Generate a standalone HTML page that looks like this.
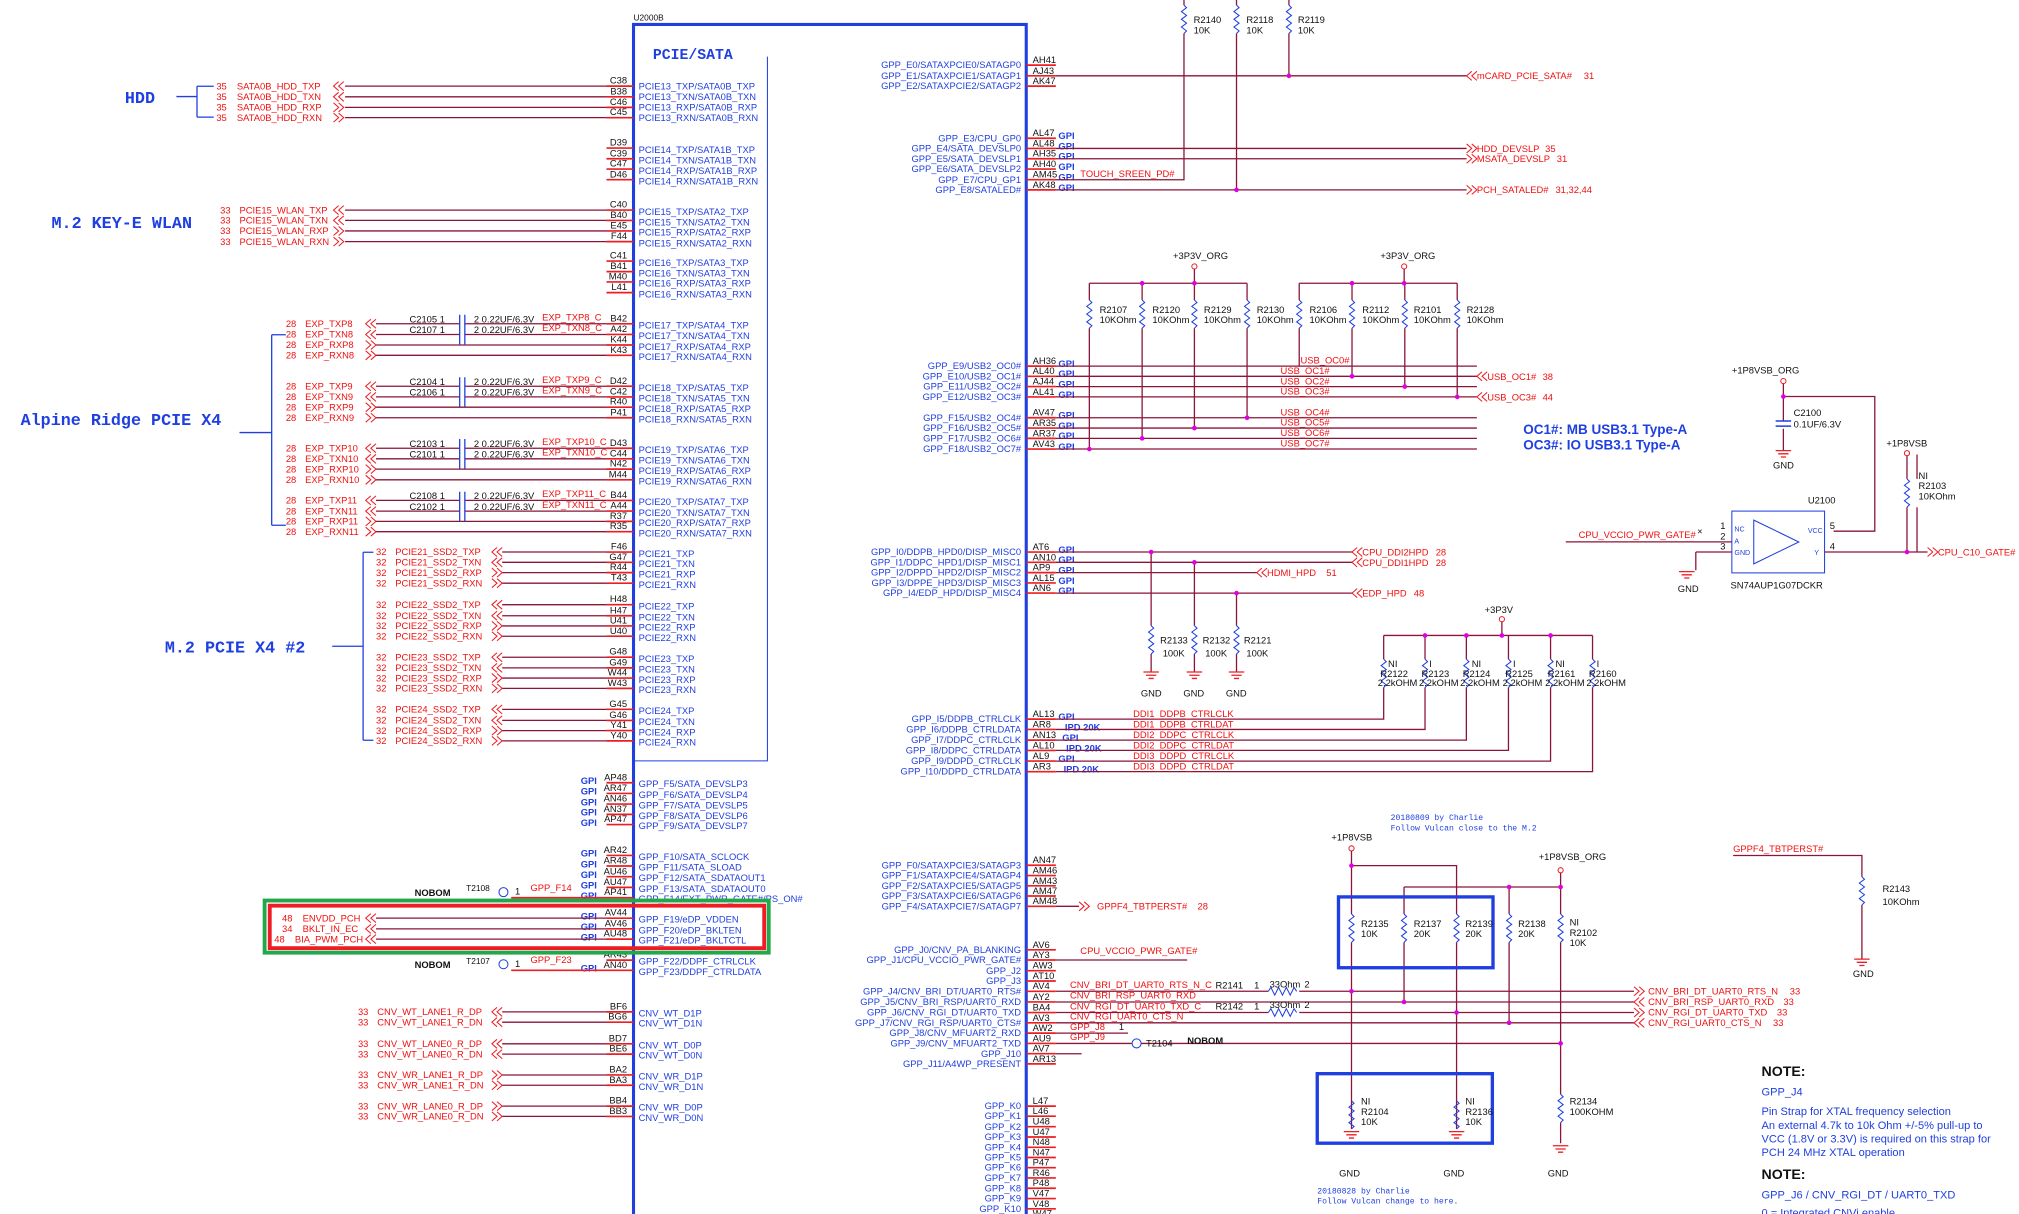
<!DOCTYPE html>
<html><head><meta charset="utf-8"><style>
html,body{margin:0;padding:0;background:#fff;}
svg{display:block}
text{font-family:"Liberation Sans",sans-serif;font-size:7.3px}
.b{fill:#1f3fe0}.r{fill:#f01010}.k{fill:#111}
.g{fill:#1f3fe0;font-weight:bold;font-size:7px}
.s{stroke:#ee1c24;stroke-width:1.3}
.w{stroke:#8a1538;stroke-width:1;fill:none}
.bl{stroke:#1f3fe0;fill:none}
.big{font-family:"Liberation Mono",monospace;font-weight:bold;fill:#1f3fe0;font-size:13px}
.nt{fill:#1f3fe0;font-size:8.6px}
.mono{font-family:"Liberation Mono",monospace;font-size:6.3px;fill:#1f3fe0}
</style></head><body>
<svg width="2019" height="1214" viewBox="0 0 1568 943" preserveAspectRatio="none" xmlns="http://www.w3.org/2000/svg">
<defs>
<path id="cl" d="M4 -3.5 L0 0 L4 3.5 M8 -3.5 L4 0 L8 3.5" stroke="#ee1c24" stroke-width="0.8" fill="none"/>
<path id="cr" d="M0 -3.5 L4 0 L0 3.5 M4 -3.5 L8 0 L4 3.5" stroke="#ee1c24" stroke-width="0.8" fill="none"/>
<path id="rz" d="M0 0 l2 2 l-4 3 l4 3 l-4 3 l4 3 l-4 3 l4 3 l-2 2" stroke="#1f3fe0" stroke-width="0.8" fill="none"/>
<path id="gnd" d="M-6 0 h12 M-4 2.5 h8 M-2 5 h4" stroke="#ee1c24" stroke-width="1" fill="none"/>
</defs>
<rect width="1568" height="943" fill="#fff"/>

<!-- main box -->
<rect x="492" y="19" width="305" height="930" fill="none" stroke="#1f3fe0" stroke-width="2.4"/>
<text x="492" y="16" class="k" style="font-size:6.5px">U2000B</text>
<text x="507" y="46" class="big" style="font-size:11.5px">PCIE/SATA</text>
<polyline points="596,44 596,591 492,591" class="bl" stroke-width="0.8"/>

<!-- left group labels -->
<text x="97" y="80" class="big">HDD</text>
<path d="M137 75 H153 M153 67 V91 M153 67 H166 M153 91 H166" class="bl"/>
<text x="40" y="177" class="big">M.2 KEY-E WLAN</text>
<text x="16" y="330" class="big">Alpine Ridge PCIE X4</text>
<path d="M186 336 H211 M211 260 V408 M211 260 H222 M211 408 H222" class="bl"/>
<text x="128" y="507" class="big">M.2 PCIE X4 #2</text>
<path d="M258 502 H282 M282 429 V575 M282 429 H290 M282 575 H290" class="bl"/>

<!-- PCIE13 -->
<g>
<line x1="268" x2="471" y1="66.9" y2="66.9" class="w"/><line x1="268" x2="471" y1="75.2" y2="75.2" class="w"/><line x1="268" x2="471" y1="83.4" y2="83.4" class="w"/><line x1="268" x2="471" y1="91.4" y2="91.4" class="w"/>
<use href="#cl" x="259" y="66.9"/><use href="#cl" x="259" y="75.2"/><use href="#cr" x="259" y="83.4"/><use href="#cr" x="259" y="91.4"/>
<text x="168" y="69.4" class="r">35</text><text x="184" y="69.4" class="r">SATA0B_HDD_TXP</text>
<text x="168" y="77.7" class="r">35</text><text x="184" y="77.7" class="r">SATA0B_HDD_TXN</text>
<text x="168" y="85.9" class="r">35</text><text x="184" y="85.9" class="r">SATA0B_HDD_RXP</text>
<text x="168" y="93.9" class="r">35</text><text x="184" y="93.9" class="r">SATA0B_HDD_RXN</text>
</g>
<!-- PCIE15 wlan -->
<g>
<line x1="268" x2="471" y1="163.2" y2="163.2" class="w"/><line x1="268" x2="471" y1="171.2" y2="171.2" class="w"/><line x1="268" x2="471" y1="179.4" y2="179.4" class="w"/><line x1="268" x2="471" y1="187.7" y2="187.7" class="w"/>
<use href="#cl" x="259" y="163.2"/><use href="#cl" x="259" y="171.2"/><use href="#cr" x="259" y="179.4"/><use href="#cr" x="259" y="187.7"/>
<text x="171" y="165.7" class="r">33</text><text x="186" y="165.7" class="r">PCIE15_WLAN_TXP</text>
<text x="171" y="173.7" class="r">33</text><text x="186" y="173.7" class="r">PCIE15_WLAN_TXN</text>
<text x="171" y="181.9" class="r">33</text><text x="186" y="181.9" class="r">PCIE15_WLAN_RXP</text>
<text x="171" y="190.2" class="r">33</text><text x="186" y="190.2" class="r">PCIE15_WLAN_RXN</text>
</g>

<!-- Alpine ridge groups -->
<g>
<path d="M292 251.5H357M361 251.5H471M292 259.8H357M361 259.8H471M292 268H471M292 276H471" class="w"/>
<path d="M357 244.5V267.5M361 244.5V267.5" stroke="#1f3fe0" stroke-width="1"/>
<use href="#cl" x="284" y="251.5"/><use href="#cl" x="284" y="259.8"/><use href="#cr" x="284" y="268"/><use href="#cr" x="284" y="276"/>
<text x="222" y="254" class="r">28</text><text x="237" y="254" class="r">EXP_TXP8</text>
<text x="222" y="262.3" class="r">28</text><text x="237" y="262.3" class="r">EXP_TXN8</text>
<text x="222" y="270.5" class="r">28</text><text x="237" y="270.5" class="r">EXP_RXP8</text>
<text x="222" y="278.5" class="r">28</text><text x="237" y="278.5" class="r">EXP_RXN8</text>
<text x="318" y="250.5" class="k">C2105 1</text><text x="368" y="250.5" class="k">2  0.22UF/6.3V</text><text x="421" y="249" class="r">EXP_TXP8_C</text>
<text x="318" y="258.8" class="k">C2107 1</text><text x="368" y="258.8" class="k">2  0.22UF/6.3V</text><text x="421" y="257.3" class="r">EXP_TXN8_C</text>
</g>
<g>
<path d="M292 300H357M361 300H471M292 308.3H357M361 308.3H471M292 316.3H471M292 324.5H471" class="w"/>
<path d="M357 293V316M361 293V316" stroke="#1f3fe0" stroke-width="1"/>
<use href="#cl" x="284" y="300"/><use href="#cl" x="284" y="308.3"/><use href="#cr" x="284" y="316.3"/><use href="#cr" x="284" y="324.5"/>
<text x="222" y="302.5" class="r">28</text><text x="237" y="302.5" class="r">EXP_TXP9</text>
<text x="222" y="310.8" class="r">28</text><text x="237" y="310.8" class="r">EXP_TXN9</text>
<text x="222" y="318.8" class="r">28</text><text x="237" y="318.8" class="r">EXP_RXP9</text>
<text x="222" y="327" class="r">28</text><text x="237" y="327" class="r">EXP_RXN9</text>
<text x="318" y="299" class="k">C2104 1</text><text x="368" y="299" class="k">2  0.22UF/6.3V</text><text x="421" y="297.5" class="r">EXP_TXP9_C</text>
<text x="318" y="307.3" class="k">C2106 1</text><text x="368" y="307.3" class="k">2  0.22UF/6.3V</text><text x="421" y="305.8" class="r">EXP_TXN9_C</text>
</g>
<g>
<path d="M292 348.2H357M361 348.2H471M292 356.4H357M361 356.4H471M292 364.4H471M292 372.7H471" class="w"/>
<path d="M357 341V364M361 341V364" stroke="#1f3fe0" stroke-width="1"/>
<use href="#cl" x="284" y="348.2"/><use href="#cl" x="284" y="356.4"/><use href="#cr" x="284" y="364.4"/><use href="#cr" x="284" y="372.7"/>
<text x="222" y="350.7" class="r">28</text><text x="237" y="350.7" class="r">EXP_TXP10</text>
<text x="222" y="358.9" class="r">28</text><text x="237" y="358.9" class="r">EXP_TXN10</text>
<text x="222" y="366.9" class="r">28</text><text x="237" y="366.9" class="r">EXP_RXP10</text>
<text x="222" y="375.2" class="r">28</text><text x="237" y="375.2" class="r">EXP_RXN10</text>
<text x="318" y="347.2" class="k">C2103 1</text><text x="368" y="347.2" class="k">2  0.22UF/6.3V</text><text x="421" y="345.7" class="r">EXP_TXP10_C</text>
<text x="318" y="355.4" class="k">C2101 1</text><text x="368" y="355.4" class="k">2  0.22UF/6.3V</text><text x="421" y="353.9" class="r">EXP_TXN10_C</text>
</g>
<g>
<path d="M292 388.7H357M361 388.7H471M292 397H357M361 397H471M292 405H471M292 413H471" class="w"/>
<path d="M357 382V405M361 382V405" stroke="#1f3fe0" stroke-width="1"/>
<use href="#cl" x="284" y="388.7"/><use href="#cl" x="284" y="397"/><use href="#cr" x="284" y="405"/><use href="#cr" x="284" y="413"/>
<text x="222" y="391.2" class="r">28</text><text x="237" y="391.2" class="r">EXP_TXP11</text>
<text x="222" y="399.5" class="r">28</text><text x="237" y="399.5" class="r">EXP_TXN11</text>
<text x="222" y="407.5" class="r">28</text><text x="237" y="407.5" class="r">EXP_RXP11</text>
<text x="222" y="415.5" class="r">28</text><text x="237" y="415.5" class="r">EXP_RXN11</text>
<text x="318" y="387.7" class="k">C2108 1</text><text x="368" y="387.7" class="k">2  0.22UF/6.3V</text><text x="421" y="386.2" class="r">EXP_TXP11_C</text>
<text x="318" y="396" class="k">C2102 1</text><text x="368" y="396" class="k">2  0.22UF/6.3V</text><text x="421" y="394.5" class="r">EXP_TXN11_C</text>
</g>

<!-- SSD groups -->
<g>
<path d="M390 428.8H471M390 436.8H471M390 444.8H471M390 453H471M390 469.7H471M390 478.3H471M390 486.2H471M390 494.2H471M390 510.5H471M390 518.8H471M390 526.7H471M390 534.7H471M390 551H471M390 559.6H471M390 567.5H471M390 575.5H471" class="w"/>
<use href="#cl" x="382" y="428.8"/><use href="#cl" x="382" y="436.8"/><use href="#cr" x="382" y="444.8"/><use href="#cr" x="382" y="453"/>
<use href="#cl" x="382" y="469.7"/><use href="#cl" x="382" y="478.3"/><use href="#cr" x="382" y="486.2"/><use href="#cr" x="382" y="494.2"/>
<use href="#cl" x="382" y="510.5"/><use href="#cl" x="382" y="518.8"/><use href="#cr" x="382" y="526.7"/><use href="#cr" x="382" y="534.7"/>
<use href="#cl" x="382" y="551"/><use href="#cl" x="382" y="559.6"/><use href="#cr" x="382" y="567.5"/><use href="#cr" x="382" y="575.5"/>
<text x="292" y="431.3" class="r">32</text><text x="307" y="431.3" class="r">PCIE21_SSD2_TXP</text>
<text x="292" y="439.3" class="r">32</text><text x="307" y="439.3" class="r">PCIE21_SSD2_TXN</text>
<text x="292" y="447.3" class="r">32</text><text x="307" y="447.3" class="r">PCIE21_SSD2_RXP</text>
<text x="292" y="455.5" class="r">32</text><text x="307" y="455.5" class="r">PCIE21_SSD2_RXN</text>
<text x="292" y="472.2" class="r">32</text><text x="307" y="472.2" class="r">PCIE22_SSD2_TXP</text>
<text x="292" y="480.8" class="r">32</text><text x="307" y="480.8" class="r">PCIE22_SSD2_TXN</text>
<text x="292" y="488.7" class="r">32</text><text x="307" y="488.7" class="r">PCIE22_SSD2_RXP</text>
<text x="292" y="496.7" class="r">32</text><text x="307" y="496.7" class="r">PCIE22_SSD2_RXN</text>
<text x="292" y="513" class="r">32</text><text x="307" y="513" class="r">PCIE23_SSD2_TXP</text>
<text x="292" y="521.3" class="r">32</text><text x="307" y="521.3" class="r">PCIE23_SSD2_TXN</text>
<text x="292" y="529.2" class="r">32</text><text x="307" y="529.2" class="r">PCIE23_SSD2_RXP</text>
<text x="292" y="537.2" class="r">32</text><text x="307" y="537.2" class="r">PCIE23_SSD2_RXN</text>
<text x="292" y="553.5" class="r">32</text><text x="307" y="553.5" class="r">PCIE24_SSD2_TXP</text>
<text x="292" y="562.1" class="r">32</text><text x="307" y="562.1" class="r">PCIE24_SSD2_TXN</text>
<text x="292" y="570" class="r">32</text><text x="307" y="570" class="r">PCIE24_SSD2_RXP</text>
<text x="292" y="578" class="r">32</text><text x="307" y="578" class="r">PCIE24_SSD2_RXN</text>
</g>

<!-- left pin stubs + labels + inner texts -->
<g class="pins">
<path class="s" d="M471 66.9H492M471 75.2H492M471 83.4H492M471 91.4H492M471 115H492M471 123.3H492M471 131.3H492M471 139.6H492M471 163.2H492M471 171.2H492M471 179.4H492M471 187.7H492M471 202.8H492M471 211H492M471 219H492M471 227.3H492M471 251.5H492M471 259.8H492M471 268H492M471 276H492M471 300H492M471 308.3H492M471 316.3H492M471 324.5H492M471 348.2H492M471 356.4H492M471 364.4H492M471 372.7H492M471 388.7H492M471 397H492M471 405H492M471 413H492M471 428.8H492M471 436.8H492M471 444.8H492M471 453H492M471 469.7H492M471 478.3H492M471 486.2H492M471 494.2H492M471 510.5H492M471 518.8H492M471 526.7H492M471 534.7H492M471 551H492M471 559.6H492M471 567.5H492M471 575.5H492M471 608H492M471 616.3H492M471 624.6H492M471 632.6H492M471 640.5H492M471 664.5H492M471 672.7H492M471 681H492M471 689.3H492M471 697.3H492M471 713.2H492M471 721.5H492M471 729.5H492M471 745.8H492M471 753.7H492M471 786H492M471 794H492M471 810.8H492M471 818.8H492M471 835H492M471 843H492M471 859.2H492M471 867.2H492"/>
<g class="k" text-anchor="end">
<text x="487" y="65">C38</text><text x="487" y="73.3">B38</text><text x="487" y="81.5">C46</text><text x="487" y="89.5">C45</text>
<text x="487" y="113.1">D39</text><text x="487" y="121.4">C39</text><text x="487" y="129.4">C47</text><text x="487" y="137.7">D46</text>
<text x="487" y="161.3">C40</text><text x="487" y="169.3">B40</text><text x="487" y="177.5">E45</text><text x="487" y="185.8">F44</text>
<text x="487" y="200.9">C41</text><text x="487" y="209.1">B41</text><text x="487" y="217.1">M40</text><text x="487" y="225.4">L41</text>
<text x="487" y="249.6">B42</text><text x="487" y="257.9">A42</text><text x="487" y="266.1">K44</text><text x="487" y="274.1">K43</text>
<text x="487" y="298.1">D42</text><text x="487" y="306.4">C42</text><text x="487" y="314.4">R40</text><text x="487" y="322.6">P41</text>
<text x="487" y="346.3">D43</text><text x="487" y="354.5">C44</text><text x="487" y="362.5">N42</text><text x="487" y="370.8">M44</text>
<text x="487" y="386.8">B44</text><text x="487" y="395.1">A44</text><text x="487" y="403.1">R37</text><text x="487" y="411.1">R35</text>
<text x="487" y="426.9">F46</text><text x="487" y="434.9">G47</text><text x="487" y="442.9">R44</text><text x="487" y="451.1">T43</text>
<text x="487" y="467.8">H48</text><text x="487" y="476.4">H47</text><text x="487" y="484.3">U41</text><text x="487" y="492.3">U40</text>
<text x="487" y="508.6">G48</text><text x="487" y="516.9">G49</text><text x="487" y="524.8">W44</text><text x="487" y="532.8">W43</text>
<text x="487" y="549.1">G45</text><text x="487" y="557.7">G46</text><text x="487" y="565.6">Y41</text><text x="487" y="573.6">Y40</text>
<text x="487" y="606.1">AP48</text><text x="487" y="614.4">AR47</text><text x="487" y="622.7">AN46</text><text x="487" y="630.7">AN37</text><text x="487" y="638.6">AP47</text>
<text x="487" y="662.6">AR42</text><text x="487" y="670.8">AR48</text><text x="487" y="679.1">AU46</text><text x="487" y="687.4">AU47</text><text x="487" y="695.4">AP41</text>
<text x="487" y="711.3">AV44</text><text x="487" y="719.6">AV46</text><text x="487" y="727.6">AU48</text>
<text x="487" y="743.9">AR43</text><text x="487" y="751.8">AN40</text>
<text x="487" y="784.1">BF6</text><text x="487" y="792.1">BG6</text><text x="487" y="808.9">BD7</text><text x="487" y="816.9">BE6</text>
<text x="487" y="833.1">BA2</text><text x="487" y="841.1">BA3</text><text x="487" y="857.3">BB4</text><text x="487" y="865.3">BB3</text>
</g>
<g class="g">
<text x="451" y="609">GPI</text><text x="451" y="617.3">GPI</text><text x="451" y="625.6">GPI</text><text x="451" y="633.6">GPI</text><text x="451" y="641.5">GPI</text>
<text x="451" y="665.5">GPI</text><text x="451" y="673.7">GPI</text><text x="451" y="682">GPI</text><text x="451" y="690.3">GPI</text><text x="451" y="698.3">GPI</text>
<text x="451" y="714.2">GPI</text><text x="451" y="722.5">GPI</text><text x="451" y="730.5">GPI</text><text x="451" y="754.7">GPI</text>
</g>
<g class="b">
<text x="496" y="69.5">PCIE13_TXP/SATA0B_TXP</text><text x="496" y="77.8">PCIE13_TXN/SATA0B_TXN</text><text x="496" y="86">PCIE13_RXP/SATA0B_RXP</text><text x="496" y="94">PCIE13_RXN/SATA0B_RXN</text>
<text x="496" y="119">PCIE14_TXP/SATA1B_TXP</text><text x="496" y="127">PCIE14_TXN/SATA1B_TXN</text><text x="496" y="135">PCIE14_RXP/SATA1B_RXP</text><text x="496" y="143.2">PCIE14_RXN/SATA1B_RXN</text>
<text x="496" y="167">PCIE15_TXP/SATA2_TXP</text><text x="496" y="175">PCIE15_TXN/SATA2_TXN</text><text x="496" y="183">PCIE15_RXP/SATA2_RXP</text><text x="496" y="191.3">PCIE15_RXN/SATA2_RXN</text>
<text x="496" y="206.5">PCIE16_TXP/SATA3_TXP</text><text x="496" y="214.7">PCIE16_TXN/SATA3_TXN</text><text x="496" y="222.7">PCIE16_RXP/SATA3_RXP</text><text x="496" y="231">PCIE16_RXN/SATA3_RXN</text>
<text x="496" y="255.2">PCIE17_TXP/SATA4_TXP</text><text x="496" y="263.5">PCIE17_TXN/SATA4_TXN</text><text x="496" y="271.7">PCIE17_RXP/SATA4_RXP</text><text x="496" y="279.7">PCIE17_RXN/SATA4_RXN</text>
<text x="496" y="303.7">PCIE18_TXP/SATA5_TXP</text><text x="496" y="312">PCIE18_TXN/SATA5_TXN</text><text x="496" y="320">PCIE18_RXP/SATA5_RXP</text><text x="496" y="328.2">PCIE18_RXN/SATA5_RXN</text>
<text x="496" y="351.9">PCIE19_TXP/SATA6_TXP</text><text x="496" y="360.1">PCIE19_TXN/SATA6_TXN</text><text x="496" y="368.1">PCIE19_RXP/SATA6_RXP</text><text x="496" y="376.4">PCIE19_RXN/SATA6_RXN</text>
<text x="496" y="392.4">PCIE20_TXP/SATA7_TXP</text><text x="496" y="400.7">PCIE20_TXN/SATA7_TXN</text><text x="496" y="408.7">PCIE20_RXP/SATA7_RXP</text><text x="496" y="416.7">PCIE20_RXN/SATA7_RXN</text>
<text x="496" y="432.5">PCIE21_TXP</text><text x="496" y="440.5">PCIE21_TXN</text><text x="496" y="448.5">PCIE21_RXP</text><text x="496" y="456.7">PCIE21_RXN</text>
<text x="496" y="473.4">PCIE22_TXP</text><text x="496" y="482">PCIE22_TXN</text><text x="496" y="489.9">PCIE22_RXP</text><text x="496" y="497.9">PCIE22_RXN</text>
<text x="496" y="514.2">PCIE23_TXP</text><text x="496" y="522.5">PCIE23_TXN</text><text x="496" y="530.4">PCIE23_RXP</text><text x="496" y="538.4">PCIE23_RXN</text>
<text x="496" y="554.7">PCIE24_TXP</text><text x="496" y="563.3">PCIE24_TXN</text><text x="496" y="571.2">PCIE24_RXP</text><text x="496" y="579.2">PCIE24_RXN</text>
<text x="496" y="611.5">GPP_F5/SATA_DEVSLP3</text><text x="496" y="619.8">GPP_F6/SATA_DEVSLP4</text><text x="496" y="628.1">GPP_F7/SATA_DEVSLP5</text><text x="496" y="636.1">GPP_F8/SATA_DEVSLP6</text><text x="496" y="644">GPP_F9/SATA_DEVSLP7</text>
<text x="496" y="668">GPP_F10/SATA_SCLOCK</text><text x="496" y="676.2">GPP_F11/SATA_SLOAD</text><text x="496" y="684.5">GPP_F12/SATA_SDATAOUT1</text><text x="496" y="692.8">GPP_F13/SATA_SDATAOUT0</text><text x="496" y="700.8">GPP_F14/EXT_PWR_GATE#/PS_ON#</text>
<text x="496" y="716.7">GPP_F19/eDP_VDDEN</text><text x="496" y="725">GPP_F20/eDP_BKLTEN</text><text x="496" y="733">GPP_F21/eDP_BKLTCTL</text>
<text x="496" y="749.3">GPP_F22/DDPF_CTRLCLK</text><text x="496" y="757.2">GPP_F23/DDPF_CTRLDATA</text>
<text x="496" y="789.5">CNV_WT_D1P</text><text x="496" y="797.5">CNV_WT_D1N</text><text x="496" y="814.3">CNV_WT_D0P</text><text x="496" y="822.3">CNV_WT_D0N</text>
<text x="496" y="838.5">CNV_WR_D1P</text><text x="496" y="846.5">CNV_WR_D1N</text><text x="496" y="862.7">CNV_WR_D0P</text><text x="496" y="870.7">CNV_WR_D0N</text>
</g>
</g>

<!-- NOBOM test points left -->
<text x="322" y="696" class="k" style="font-weight:bold">NOBOM</text>
<text x="362" y="692" class="k" style="font-size:6.5px">T2108</text>
<circle cx="391" cy="693" r="3.5" fill="none" stroke="#1f3fe0" stroke-width="0.8"/>
<text x="400" y="695" class="k">1</text><text x="412" y="692" class="r">GPP_F14</text>
<line x1="397" x2="471" y1="697.3" y2="697.3" class="s"/>
<text x="322" y="752" class="k" style="font-weight:bold">NOBOM</text>
<text x="362" y="749" class="k" style="font-size:6.5px">T2107</text>
<circle cx="391" cy="749" r="3.5" fill="none" stroke="#1f3fe0" stroke-width="0.8"/>
<text x="400" y="751" class="k">1</text><text x="412" y="748" class="r">GPP_F23</text>
<line x1="397" x2="471" y1="753.7" y2="753.7" class="s"/>

<!-- eDP rows -->
<path d="M292 713.2H471M292 721.5H471M292 729.5H471" class="w"/>
<use href="#cl" x="284" y="713.2"/><use href="#cl" x="284" y="721.5"/><use href="#cl" x="284" y="729.5"/>
<text x="219" y="715.7" class="r">48</text><text x="235" y="715.7" class="r">ENVDD_PCH</text>
<text x="219" y="724" class="r">34</text><text x="235" y="724" class="r">BKLT_IN_EC</text>
<text x="213" y="732" class="r">48</text><text x="229" y="732" class="r">BIA_PWM_PCH</text>
<rect x="205.5" y="699.5" width="391.5" height="40.5" fill="none" stroke="#22a84a" stroke-width="3"/>
<rect x="209.5" y="703.5" width="384" height="33" fill="none" stroke="#ee1c24" stroke-width="3"/>

<!-- CNV left -->
<path d="M390 786H471M390 794H471M390 810.8H471M390 818.8H471M390 835H471M390 843H471M390 859.2H471M390 867.2H471" class="w"/>
<use href="#cl" x="382" y="786"/><use href="#cl" x="382" y="794"/><use href="#cl" x="382" y="810.8"/><use href="#cl" x="382" y="818.8"/>
<use href="#cr" x="382" y="835"/><use href="#cr" x="382" y="843"/><use href="#cr" x="382" y="859.2"/><use href="#cr" x="382" y="867.2"/>
<text x="278" y="788.5" class="r">33</text><text x="293" y="788.5" class="r">CNV_WT_LANE1_R_DP</text>
<text x="278" y="796.5" class="r">33</text><text x="293" y="796.5" class="r">CNV_WT_LANE1_R_DN</text>
<text x="278" y="813.3" class="r">33</text><text x="293" y="813.3" class="r">CNV_WT_LANE0_R_DP</text>
<text x="278" y="821.3" class="r">33</text><text x="293" y="821.3" class="r">CNV_WT_LANE0_R_DN</text>
<text x="278" y="837.5" class="r">33</text><text x="293" y="837.5" class="r">CNV_WR_LANE1_R_DP</text>
<text x="278" y="845.5" class="r">33</text><text x="293" y="845.5" class="r">CNV_WR_LANE1_R_DN</text>
<text x="278" y="861.7" class="r">33</text><text x="293" y="861.7" class="r">CNV_WR_LANE0_R_DP</text>
<text x="278" y="869.7" class="r">33</text><text x="293" y="869.7" class="r">CNV_WR_LANE0_R_DN</text>

<!-- RIGHT SIDE pins -->
<path class="s" d="M797 50.6H820M797 58.9H820M797 66.9H820M797 107.4H820M797 115.3H820M797 123.3H820M797 131.3H820M797 139.6H820M797 147.5H820M797 284.4H820M797 292.3H820M797 300.3H820M797 308.3H820M797 324.5H820M797 332.5H820M797 340.5H820M797 348.8H820M797 428.8H820M797 436.8H820M797 444.8H820M797 452.8H820M797 460.7H820M797 558.6H820M797 566.6H820M797 574.9H820M797 582.9H820M797 591.2H820M797 599.4H820M797 672.1H820M797 680.1H820M797 688.1H820M797 696H820M797 704H820M797 737.8H820M797 745.7H820M797 754H820M797 762H820M797 770H820M797 778.3H820M797 786.5H820M797 794.5H820M797 802.5H820M797 810.5H820M797 818.5H820M797 826.4H820M797 859.2H820M797 867H820M797 875.2H820M797 883.2H820M797 891.2H820M797 899.1H820M797 907H820M797 915H820M797 923H820M797 931H820M797 939H820"/>
<g class="k">
<text x="802" y="49">AH41</text><text x="802" y="57.3">AJ43</text><text x="802" y="65.3">AK47</text>
<text x="802" y="105.8">AL47</text><text x="802" y="113.7">AL48</text><text x="802" y="121.7">AH35</text><text x="802" y="129.7">AH40</text><text x="802" y="138">AM45</text><text x="802" y="145.9">AK48</text>
<text x="802" y="282.8">AH36</text><text x="802" y="290.7">AL40</text><text x="802" y="298.7">AJ44</text><text x="802" y="306.7">AL41</text>
<text x="802" y="322.9">AV47</text><text x="802" y="330.9">AR35</text><text x="802" y="338.9">AR37</text><text x="802" y="347.2">AV43</text>
<text x="802" y="427.2">AT6</text><text x="802" y="435.2">AN10</text><text x="802" y="443.2">AP9</text><text x="802" y="451.2">AL15</text><text x="802" y="459.1">AN6</text>
<text x="802" y="557">AL13</text><text x="802" y="565">AR8</text><text x="802" y="573.3">AN13</text><text x="802" y="581.3">AL10</text><text x="802" y="589.6">AL9</text><text x="802" y="597.8">AR3</text>
<text x="802" y="670.5">AN47</text><text x="802" y="678.5">AM46</text><text x="802" y="686.5">AM43</text><text x="802" y="694.4">AM47</text><text x="802" y="702.4">AM48</text>
<text x="802" y="736.2">AV6</text><text x="802" y="744.1">AY3</text><text x="802" y="752.4">AW3</text><text x="802" y="760.4">AT10</text><text x="802" y="768.4">AV4</text><text x="802" y="776.7">AY2</text><text x="802" y="784.9">BA4</text><text x="802" y="792.9">AV3</text><text x="802" y="800.9">AW2</text><text x="802" y="808.9">AU9</text><text x="802" y="816.9">AV7</text><text x="802" y="824.8">AR13</text>
<text x="802" y="857.6">L47</text><text x="802" y="865.4">L46</text><text x="802" y="873.6">U48</text><text x="802" y="881.6">U47</text><text x="802" y="889.6">N48</text><text x="802" y="897.5">N47</text><text x="802" y="905.4">P47</text><text x="802" y="913.4">R46</text><text x="802" y="921.4">P48</text><text x="802" y="929.4">V47</text><text x="802" y="937.4">V48</text><text x="802" y="945">W47</text>
</g>
<g class="g">
<text x="822" y="108">GPI</text><text x="822" y="116">GPI</text><text x="822" y="124">GPI</text><text x="822" y="132">GPI</text><text x="822" y="140.3">GPI</text><text x="822" y="148.2">GPI</text>
<text x="822" y="285.1">GPI</text><text x="822" y="293">GPI</text><text x="822" y="301">GPI</text><text x="822" y="309">GPI</text>
<text x="822" y="325.2">GPI</text><text x="822" y="333.2">GPI</text><text x="822" y="341.2">GPI</text><text x="822" y="349.5">GPI</text>
<text x="822" y="429.5">GPI</text><text x="822" y="437.5">GPI</text><text x="822" y="445.5">GPI</text><text x="822" y="453.5">GPI</text><text x="822" y="461.4">GPI</text>
<text x="822" y="559.3">GPI</text><text x="827" y="567.3">IPD 20K</text><text x="825" y="575.6">GPI</text><text x="828" y="583.6">IPD 20K</text><text x="822" y="591.9">GPI</text><text x="826" y="600.1">IPD 20K</text>
</g>
<g class="b" text-anchor="end">
<text x="793" y="53">GPP_E0/SATAXPCIE0/SATAGP0</text><text x="793" y="61.3">GPP_E1/SATAXPCIE1/SATAGP1</text><text x="793" y="69.3">GPP_E2/SATAXPCIE2/SATAGP2</text>
<text x="793" y="109.8">GPP_E3/CPU_GP0</text><text x="793" y="117.7">GPP_E4/SATA_DEVSLP0</text><text x="793" y="125.7">GPP_E5/SATA_DEVSLP1</text><text x="793" y="133.7">GPP_E6/SATA_DEVSLP2</text><text x="793" y="142">GPP_E7/CPU_GP1</text><text x="793" y="149.9">GPP_E8/SATALED#</text>
<text x="793" y="286.8">GPP_E9/USB2_OC0#</text><text x="793" y="294.7">GPP_E10/USB2_OC1#</text><text x="793" y="302.7">GPP_E11/USB2_OC2#</text><text x="793" y="310.7">GPP_E12/USB2_OC3#</text>
<text x="793" y="326.9">GPP_F15/USB2_OC4#</text><text x="793" y="334.9">GPP_F16/USB2_OC5#</text><text x="793" y="342.9">GPP_F17/USB2_OC6#</text><text x="793" y="351.2">GPP_F18/USB2_OC7#</text>
<text x="793" y="431.2">GPP_I0/DDPB_HPD0/DISP_MISC0</text><text x="793" y="439.2">GPP_I1/DDPC_HPD1/DISP_MISC1</text><text x="793" y="447.2">GPP_I2/DPPD_HPD2/DISP_MISC2</text><text x="793" y="455.2">GPP_I3/DPPE_HPD3/DISP_MISC3</text><text x="793" y="463.1">GPP_I4/EDP_HPD/DISP_MISC4</text>
<text x="793" y="561">GPP_I5/DDPB_CTRLCLK</text><text x="793" y="569">GPP_I6/DDPB_CTRLDATA</text><text x="793" y="577.3">GPP_I7/DDPC_CTRLCLK</text><text x="793" y="585.3">GPP_I8/DDPC_CTRLDATA</text><text x="793" y="593.6">GPP_I9/DDPD_CTRLCLK</text><text x="793" y="601.8">GPP_I10/DDPD_CTRLDATA</text>
<text x="793" y="674.5">GPP_F0/SATAXPCIE3/SATAGP3</text><text x="793" y="682.5">GPP_F1/SATAXPCIE4/SATAGP4</text><text x="793" y="690.5">GPP_F2/SATAXPCIE5/SATAGP5</text><text x="793" y="698.4">GPP_F3/SATAXPCIE6/SATAGP6</text><text x="793" y="706.4">GPP_F4/SATAXPCIE7/SATAGP7</text>
<text x="793" y="740.2">GPP_J0/CNV_PA_BLANKING</text><text x="793" y="748.1">GPP_J1/CPU_VCCIO_PWR_GATE#</text><text x="793" y="756.4">GPP_J2</text><text x="793" y="764.4">GPP_J3</text><text x="793" y="772.4">GPP_J4/CNV_BRI_DT/UART0_RTS#</text><text x="793" y="780.7">GPP_J5/CNV_BRI_RSP/UART0_RXD</text><text x="793" y="788.9">GPP_J6/CNV_RGI_DT/UART0_TXD</text><text x="793" y="796.9">GPP_J7/CNV_RGI_RSP/UART0_CTS#</text><text x="793" y="804.9">GPP_J8/CNV_MFUART2_RXD</text><text x="793" y="812.9">GPP_J9/CNV_MFUART2_TXD</text><text x="793" y="820.9">GPP_J10</text><text x="793" y="828.8">GPP_J11/A4WP_PRESENT</text>
<text x="793" y="861.6">GPP_K0</text><text x="793" y="869.4">GPP_K1</text><text x="793" y="877.6">GPP_K2</text><text x="793" y="885.6">GPP_K3</text><text x="793" y="893.6">GPP_K4</text><text x="793" y="901.5">GPP_K5</text><text x="793" y="909.4">GPP_K6</text><text x="793" y="917.4">GPP_K7</text><text x="793" y="925.4">GPP_K8</text><text x="793" y="933.4">GPP_K9</text><text x="793" y="941.4">GPP_K10</text>
</g>

<!-- top right nets -->
<path class="w" d="M820 58.9H1139M820 115.3H1139M820 123.3H1139M820 139.6H919.5V26M820 147.5H1139M919.5 0V4M960.3 0V4M1001 0V4M960.3 26V147.5M1001 26V58.9"/>
<use href="#rz" x="919.5" y="4"/><use href="#rz" x="960.3" y="4"/><use href="#rz" x="1001" y="4"/>
<g fill="#e000e0"><circle cx="1001" cy="58.9" r="1.8"/><circle cx="960.3" cy="147.5" r="1.8"/></g>
<text x="927" y="18" class="k">R2140</text><text x="927" y="26" class="k">10K</text>
<text x="968" y="18" class="k">R2118</text><text x="968" y="26" class="k">10K</text>
<text x="1008" y="18" class="k">R2119</text><text x="1008" y="26" class="k">10K</text>
<use href="#cl" x="1139" y="58.9"/><text x="1147" y="61.5" class="r">mCARD_PCIE_SATA#</text><text x="1230" y="61.5" class="r">31</text>
<use href="#cr" x="1139" y="115.3"/><text x="1147" y="118" class="r">HDD_DEVSLP</text><text x="1200" y="118" class="r">35</text>
<use href="#cr" x="1139" y="123.3"/><text x="1147" y="126" class="r">MSATA_DEVSLP</text><text x="1209" y="126" class="r">31</text>
<use href="#cr" x="1139" y="147.5"/><text x="1147" y="150" class="r">PCH_SATALED#</text><text x="1208" y="150" class="r">31,32,44</text>
<text x="839" y="137.5" class="r">TOUCH_SREEN_PD#</text>

<!-- USB OC pullups -->
<text x="911" y="201" class="k">+3P3V_ORG</text><text x="1072" y="201" class="k">+3P3V_ORG</text>
<circle cx="927.6" cy="207" r="2" fill="none" stroke="#ee1c24" stroke-width="0.8"/>
<circle cx="1090.5" cy="207" r="2" fill="none" stroke="#ee1c24" stroke-width="0.8"/>
<path class="w" d="M927.6 209V220M1090.5 209V220M846 220H968.5M1009 220H1131.7
M846 220V233M887 220V233M927.6 220V233M968.5 220V233M1009 220V233M1050 220V233M1091 220V233M1131.7 220V233
M846 255V348.8M887 255V340.5M927.6 255V332.5M968.5 255V324.5M1009 255V284.4M1050 255V292.3M1091 255V300.3M1131.7 255V308.3
M820 284.4H1147M820 292.3H1147M820 300.3H1147M820 308.3H1147M820 324.5H1147M820 332.5H1147M820 340.5H1147M820 348.8H1147"/>
<use href="#rz" x="846" y="233"/><use href="#rz" x="887" y="233"/><use href="#rz" x="927.6" y="233"/><use href="#rz" x="968.5" y="233"/>
<use href="#rz" x="1009" y="233"/><use href="#rz" x="1050" y="233"/><use href="#rz" x="1091" y="233"/><use href="#rz" x="1131.7" y="233"/>
<g fill="#e000e0"><circle cx="887" cy="220" r="1.8"/><circle cx="927.6" cy="220" r="1.8"/><circle cx="1050" cy="220" r="1.8"/><circle cx="1090.5" cy="220" r="1.8"/>
<circle cx="846" cy="348.8" r="1.8"/><circle cx="887" cy="340.5" r="1.8"/><circle cx="927.6" cy="332.5" r="1.8"/><circle cx="968.5" cy="324.5" r="1.8"/>
<circle cx="1050" cy="292.3" r="1.8"/><circle cx="1091" cy="300.3" r="1.8"/><circle cx="1131.7" cy="308.3" r="1.8"/></g>
<g class="k">
<text x="854" y="243">R2107</text><text x="854" y="251">10KOhm</text><text x="895" y="243">R2120</text><text x="895" y="251">10KOhm</text>
<text x="935" y="243">R2129</text><text x="935" y="251">10KOhm</text><text x="976" y="243">R2130</text><text x="976" y="251">10KOhm</text>
<text x="1017" y="243">R2106</text><text x="1017" y="251">10KOhm</text><text x="1058" y="243">R2112</text><text x="1058" y="251">10KOhm</text>
<text x="1098" y="243">R2101</text><text x="1098" y="251">10KOhm</text><text x="1139" y="243">R2128</text><text x="1139" y="251">10KOhm</text>
</g>
<g class="r">
<text x="1010" y="282.5">USB_OC0#</text><text x="994.5" y="290.5">USB_OC1#</text><text x="994.5" y="298.5">USB_OC2#</text><text x="994.5" y="306.5">USB_OC3#</text>
<text x="994.5" y="322.7">USB_OC4#</text><text x="994.5" y="330.7">USB_OC5#</text><text x="994.5" y="338.7">USB_OC6#</text><text x="994.5" y="347">USB_OC7#</text>
</g>
<use href="#cl" x="1147" y="292.3"/><text x="1155" y="295" class="r">USB_OC1#</text><text x="1198" y="295" class="r">38</text>
<use href="#cl" x="1147" y="308.3"/><text x="1155" y="311" class="r">USB_OC3#</text><text x="1198" y="311" class="r">44</text>
<text x="1183" y="337" style="font-size:10.5px;font-weight:bold;fill:#1f3fe0">OC1#: MB USB3.1 Type-A</text>
<text x="1183" y="349" style="font-size:10.5px;font-weight:bold;fill:#1f3fe0">OC3#:  IO USB3.1 Type-A</text>

<!-- U2100 -->
<text x="1345" y="290" class="k">+1P8VSB_ORG</text>
<circle cx="1385" cy="296" r="2" fill="none" stroke="#ee1c24" stroke-width="0.8"/>
<path class="w" d="M1385 298V327M1385 333V350M1385 308H1456V412.6H1424"/>
<circle cx="1385" cy="308" r="1.8" fill="#e000e0"/>
<path d="M1379 327H1391M1379 331H1391" stroke="#1f3fe0" stroke-width="1.2"/>
<use href="#gnd" x="1385" y="350"/><text x="1377" y="364" class="k">GND</text>
<text x="1393" y="323" class="k">C2100</text><text x="1393" y="332" class="k">0.1UF/6.3V</text>
<text x="1404" y="391" class="k">U2100</text>
<rect x="1345" y="397" width="72" height="48" fill="none" stroke="#1f3fe0" stroke-width="0.8"/>
<path d="M1362 404V438L1397 421Z" fill="none" stroke="#1f3fe0" stroke-width="0.8"/>
<text x="1347" y="413" class="b" style="font-size:5.5px">NC</text><text x="1347" y="422" class="b" style="font-size:5.5px">A</text><text x="1347" y="431" class="b" style="font-size:5.5px">GND</text>
<text x="1404" y="414" class="b" style="font-size:5.5px">VCC</text><text x="1409" y="431" class="b" style="font-size:5.5px">Y</text>
<text x="1336" y="411" class="k">1</text><text x="1336" y="419" class="k">2</text><text x="1336" y="427" class="k">3</text><text x="1421" y="411" class="k">5</text><text x="1421" y="427" class="k">4</text>
<text x="1318" y="415" class="k">×</text>
<path class="w" d="M1216 420.9H1345M1317 428.8H1345M1317 428.8V443M1417 428.8H1497M1488.8 353V372M1488.8 394V428.8"/>
<use href="#gnd" x="1310" y="444"/><text x="1303" y="460" class="k">GND</text>
<text x="1226" y="418" class="r">CPU_VCCIO_PWR_GATE#</text>
<text x="1344" y="457" class="k">SN74AUP1G07DCKR</text>
<text x="1465" y="347" class="k">+1P8VSB</text>
<circle cx="1481" cy="352" r="2" fill="none" stroke="#ee1c24" stroke-width="0.8"/>
<path class="w" d="M1481 354V372M1481 394V428.8"/>
<use href="#rz" x="1481" y="372"/>
<text x="1490" y="372" class="k">NI</text><text x="1490" y="380" class="k">R2103</text><text x="1490" y="388" class="k">10KOhm</text>
<circle cx="1481" cy="428.8" r="1.8" fill="#e000e0"/>
<use href="#cr" x="1497" y="428.8"/><text x="1505" y="431.5" class="r">CPU_C10_GATE#</text>

<!-- HPD -->
<path class="w" d="M820 428.8H1050M820 436.8H1050M820 444.8H976M820 460.7H1050M894 428.8V486M927.6 436.8V486M960.3 460.7V486M894 508V522M927.6 508V522M960.3 508V522"/>
<g fill="#e000e0"><circle cx="894" cy="428.8" r="1.8"/><circle cx="927.6" cy="436.8" r="1.8"/><circle cx="960.3" cy="460.7" r="1.8"/></g>
<use href="#rz" x="894" y="486"/><use href="#rz" x="927.6" y="486"/><use href="#rz" x="960.3" y="486"/>
<use href="#gnd" x="894" y="522"/><use href="#gnd" x="927.6" y="522"/><use href="#gnd" x="960.3" y="522"/>
<text x="886" y="541" class="k">GND</text><text x="919" y="541" class="k">GND</text><text x="952" y="541" class="k">GND</text>
<text x="901" y="500" class="k">R2133</text><text x="903" y="510" class="k">100K</text>
<text x="934" y="500" class="k">R2132</text><text x="936" y="510" class="k">100K</text>
<text x="966" y="500" class="k">R2121</text><text x="968" y="510" class="k">100K</text>
<use href="#cl" x="1050" y="428.8"/><text x="1058" y="431.5" class="r">CPU_DDI2HPD</text><text x="1115" y="431.5" class="r">28</text>
<use href="#cl" x="1050" y="436.8"/><text x="1058" y="439.5" class="r">CPU_DDI1HPD</text><text x="1115" y="439.5" class="r">28</text>
<use href="#cl" x="976" y="444.8"/><text x="984" y="447.5" class="r">HDMI_HPD</text><text x="1030" y="447.5" class="r">51</text>
<use href="#cl" x="1050" y="460.7"/><text x="1058" y="463.5" class="r">EDP_HPD</text><text x="1098" y="463.5" class="r">48</text>

<!-- DDI pullups -->
<text x="1153" y="476" class="k">+3P3V</text>
<circle cx="1166.4" cy="481" r="2" fill="none" stroke="#ee1c24" stroke-width="0.8"/>
<path class="w" d="M1166.4 483V493.6M1074.6 493.6H1236.8M1074.6 493.6V512M1106.7 493.6V512M1138.8 493.6V512M1171.5 493.6V512M1204.2 493.6V512M1236.8 493.6V512
M1074.6 534V558.6H820M1106.7 534V566.6H820M1138.8 534V574.9H820M1171.5 534V582.9H820M1204.2 534V591.2H820M1236.8 534V599.4H820"/>
<use href="#rz" x="1074.6" y="512"/><use href="#rz" x="1106.7" y="512"/><use href="#rz" x="1138.8" y="512"/><use href="#rz" x="1171.5" y="512"/><use href="#rz" x="1204.2" y="512"/><use href="#rz" x="1236.8" y="512"/>
<g fill="#e000e0"><circle cx="1106.7" cy="493.6" r="1.8"/><circle cx="1138.8" cy="493.6" r="1.8"/><circle cx="1166.4" cy="493.6" r="1.8"/><circle cx="1204.2" cy="493.6" r="1.8"/></g>
<g class="k" style="font-size:6.8px">
<text x="1078" y="518">NI</text><text x="1072" y="526">R2122</text><text x="1070" y="533">2.2kOHM</text>
<text x="1110" y="518">I</text><text x="1104" y="526">R2123</text><text x="1102" y="533">2.2kOHM</text>
<text x="1143" y="518">NI</text><text x="1136" y="526">R2124</text><text x="1134" y="533">2.2kOHM</text>
<text x="1175" y="518">I</text><text x="1169" y="526">R2125</text><text x="1167" y="533">2.2kOHM</text>
<text x="1208" y="518">NI</text><text x="1202" y="526">R2161</text><text x="1200" y="533">2.2kOHM</text>
<text x="1240" y="518">I</text><text x="1234" y="526">R2160</text><text x="1232" y="533">2.2kOHM</text>
</g>
<g class="r">
<text x="880" y="557">DDI1_DDPB_CTRLCLK</text><text x="880" y="565">DDI1_DDPB_CTRLDAT</text><text x="880" y="573.3">DDI2_DDPC_CTRLCLK</text>
<text x="880" y="581.3">DDI2_DDPC_CTRLDAT</text><text x="880" y="589.6">DDI3_DDPD_CTRLCLK</text><text x="880" y="597.8">DDI3_DDPD_CTRLDAT</text>
</g>

<!-- bottom right -->
<line x1="820" x2="838" y1="704" y2="704" class="w"/>
<use href="#cr" x="838" y="704"/><text x="852" y="706.5" class="r">GPPF4_TBTPERST#</text><text x="930" y="706.5" class="r">28</text>
<text x="839" y="741" class="r">CPU_VCCIO_PWR_GATE#</text>
<line x1="820" x2="922" y1="745.7" y2="745.7" class="w"/>
<text class="mono" x="1080" y="637">20180809 by Charlie</text>
<text class="mono" x="1080" y="645">Follow Vulcan close to the M.2</text>
<text x="1034" y="653" class="k">+1P8VSB</text>
<circle cx="1049.6" cy="659" r="2" fill="none" stroke="#ee1c24" stroke-width="0.8"/>
<text x="1195" y="668" class="k">+1P8VSB_ORG</text>
<circle cx="1212" cy="676" r="2" fill="none" stroke="#ee1c24" stroke-width="0.8"/>
<path class="w" d="M1049.6 661V710M1049.6 732V877M1049.6 672.4H1131.2V710M1131.2 732V877M1090.4 689H1212M1090.4 689V710M1090.4 732V778.3M1172 689V710M1172 732V794.5M1212 678V710M1212 732V850M1212 872V888
M820 770H985M1009 770H1269M820 778.3H1269M820 786.5H985M1009 786.5H1269M820 794.5H1269M820 802.5H876M820 810.5H879M886 810.5H1212M820 818.5H840"/>
<use href="#rz" x="1049.6" y="710"/><use href="#rz" x="1090.4" y="710"/><use href="#rz" x="1131.2" y="710"/><use href="#rz" x="1172" y="710"/><use href="#rz" x="1212" y="710"/>
<use href="#rz" x="1049.6" y="855"/><use href="#rz" x="1131.2" y="855"/><use href="#rz" x="1212" y="850"/>
<path d="M985 770l2 -3 3 6 3 -6 3 6 3 -6 3 6 3 -6 2 3M985 786.5l2 -3 3 6 3 -6 3 6 3 -6 3 6 3 -6 2 3" stroke="#1f3fe0" stroke-width="0.8" fill="none"/>
<g fill="#e000e0"><circle cx="1049.6" cy="672.4" r="1.8"/><circle cx="1172" cy="689" r="1.8"/><circle cx="1212" cy="689" r="1.8"/><circle cx="1049.6" cy="770" r="1.8"/><circle cx="1090.4" cy="778.3" r="1.8"/><circle cx="1131.2" cy="786.5" r="1.8"/><circle cx="1172" cy="794.5" r="1.8"/><circle cx="1212" cy="810.5" r="1.8"/></g>
<rect x="1039.5" y="696.7" width="120" height="55" fill="none" stroke="#1f3fe0" stroke-width="2.6"/>
<rect x="1023" y="834" width="136" height="54" fill="none" stroke="#1f3fe0" stroke-width="2.6"/>
<g class="k">
<text x="1057" y="720">R2135</text><text x="1057" y="728">10K</text><text x="1098" y="720">R2137</text><text x="1098" y="728">20K</text>
<text x="1138" y="720">R2139</text><text x="1138" y="728">20K</text><text x="1179" y="720">R2138</text><text x="1179" y="728">20K</text>
<text x="1219" y="719">NI</text><text x="1219" y="727">R2102</text><text x="1219" y="735">10K</text>
<text x="1057" y="858">NI</text><text x="1057" y="866">R2104</text><text x="1057" y="874">10K</text>
<text x="1138" y="858">NI</text><text x="1138" y="866">R2136</text><text x="1138" y="874">10K</text>
<text x="1219" y="858">R2134</text><text x="1219" y="866">100KOHM</text>
<text x="944" y="768">R2141</text><text x="974" y="768">1</text><text x="986" y="767">33Ohm</text><text x="1013" y="767">2</text>
<text x="944" y="784">R2142</text><text x="974" y="784">1</text><text x="986" y="783">33Ohm</text><text x="1013" y="783">2</text>
<text x="869" y="800">1</text><text x="890" y="813">T2104</text>
</g>
<text x="922" y="811" class="k" style="font-weight:bold">NOBOM</text>
<circle cx="882.7" cy="810.5" r="3.5" fill="none" stroke="#1f3fe0" stroke-width="0.8"/>
<use href="#gnd" x="1049.6" y="879"/><use href="#gnd" x="1131.2" y="879"/><use href="#gnd" x="1212" y="890"/>
<text x="1040" y="914" class="k">GND</text><text x="1121" y="914" class="k">GND</text><text x="1202" y="914" class="k">GND</text>
<g class="r">
<text x="831" y="767.5">CNV_BRI_DT_UART0_RTS_N_C</text><text x="831" y="775.8">CNV_BRI_RSP_UART0_RXD</text>
<text x="831" y="784">CNV_RGI_DT_UART0_TXD_C</text><text x="831" y="792">CNV_RGI_UART0_CTS_N</text>
<text x="831" y="800">GPP_J8</text><text x="831" y="808">GPP_J9</text>
</g>
<use href="#cr" x="1269" y="770"/><use href="#cl" x="1269" y="778.3"/><use href="#cr" x="1269" y="786.5"/><use href="#cl" x="1269" y="794.5"/>
<text x="1280" y="772.5" class="r">CNV_BRI_DT_UART0_RTS_N</text><text x="1390" y="772.5" class="r">33</text>
<text x="1280" y="780.8" class="r">CNV_BRI_RSP_UART0_RXD</text><text x="1385" y="780.8" class="r">33</text>
<text x="1280" y="789" class="r">CNV_RGI_DT_UART0_TXD</text><text x="1380" y="789" class="r">33</text>
<text x="1280" y="797" class="r">CNV_RGI_UART0_CTS_N</text><text x="1377" y="797" class="r">33</text>
<text class="mono" x="1023" y="927">20180828 by Charlie</text>
<text class="mono" x="1023" y="935">Follow Vulcan change to here.</text>

<text x="1346" y="662" class="r">GPPF4_TBTPERST#</text>
<path class="w" d="M1346 664.5H1446V681M1446 703V745"/>
<use href="#rz" x="1446" y="681"/>
<text x="1462" y="693" class="k">R2143</text><text x="1462" y="703" class="k">10KOhm</text>
<use href="#gnd" x="1446" y="745"/><text x="1439" y="759" class="k">GND</text>

<text x="1368" y="836" style="font-size:11px;font-weight:bold;fill:#111">NOTE:</text>
<text x="1368" y="851" class="nt">GPP_J4</text>
<text x="1368" y="866" class="nt">Pin Strap for XTAL frequency selection</text>
<text x="1368" y="877" class="nt">An external 4.7k to 10k Ohm +/-5% pull-up to</text>
<text x="1368" y="887.5" class="nt">VCC (1.8V or 3.3V) is required on this strap for</text>
<text x="1368" y="898" class="nt">PCH 24 MHz XTAL operation</text>
<text x="1368" y="916" style="font-size:11px;font-weight:bold;fill:#111">NOTE:</text>
<text x="1368" y="931" class="nt">GPP_J6 / CNV_RGI_DT / UART0_TXD</text>
<text x="1368" y="945" class="nt">0 = Integrated CNVi enable</text>
</svg>
</body></html>
